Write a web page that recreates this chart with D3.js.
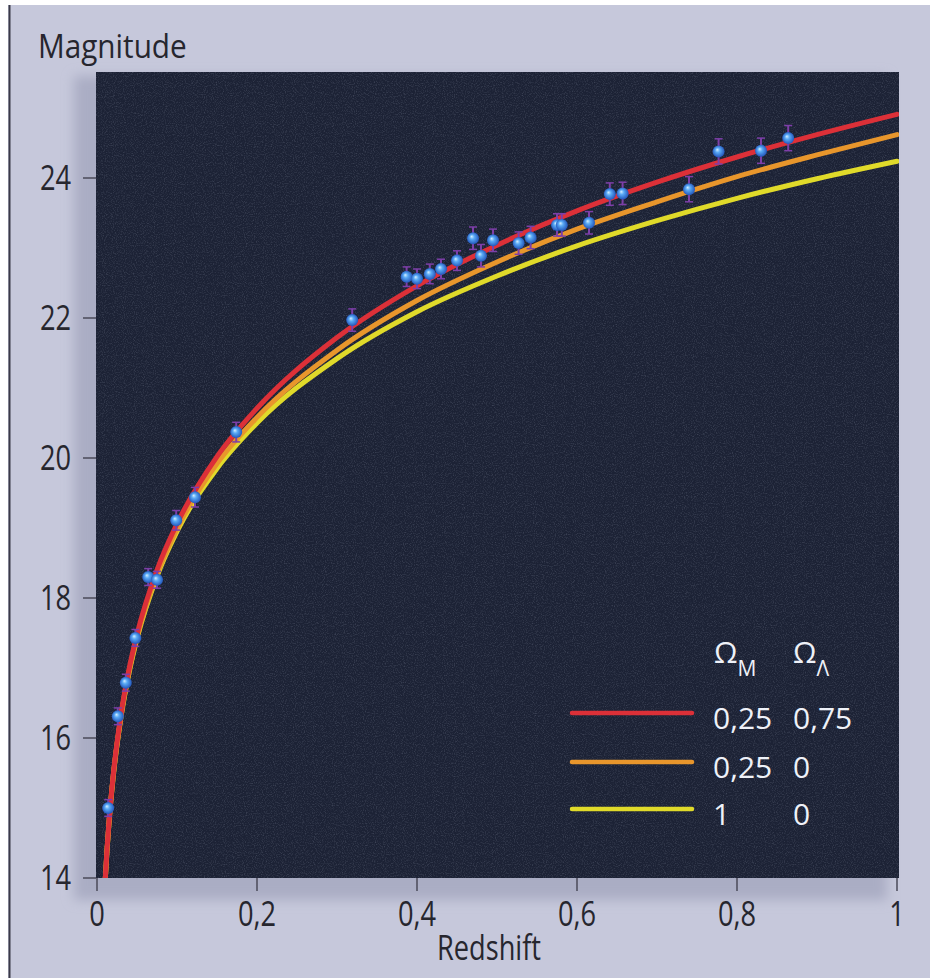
<!DOCTYPE html>
<html lang="en">
<head>
    <meta charset="UTF-8">
    <title>Redshift - Magnitude</title>
    <script src="https://d3js.org/d3.v7.min.js"></script>
    <style>
        body { margin: 0; background: #ffffff; }
        text { font-family: 'Open Sans', 'Noto Sans', sans-serif; }
    </style>
</head>
<body>
<script>
    const width  = 930;
    const height = 978;

    // model curves
    const zGrid      = [0.01, 0.0125, 0.015, 0.02, 0.03, 0.04, 0.05, 0.075, 0.1, 0.15, 0.2, 0.3, 0.4, 0.5, 0.6, 0.7, 0.8, 0.9, 1.0];
    const magLambda  = [13.92, 14.41, 14.81, 15.44, 16.34, 16.98, 17.48, 18.40, 19.06, 20.02, 20.71, 21.72, 22.46, 23.04, 23.53, 23.94, 24.30, 24.62, 24.91];
    const magOpen    = [13.91, 14.40, 14.79, 15.42, 16.31, 16.95, 17.44, 18.34, 18.99, 19.92, 20.58, 21.54, 22.25, 22.80, 23.27, 23.66, 24.02, 24.33, 24.62];
    const magFlat    = [13.91, 14.39, 14.79, 15.42, 16.30, 16.93, 17.42, 18.31, 18.95, 19.85, 20.50, 21.42, 22.09, 22.60, 23.03, 23.39, 23.71, 23.99, 24.24];

    // supernovae
    const snZ   = [0.014, 0.026, 0.036, 0.048, 0.064, 0.075, 0.099, 0.1225, 0.174, 0.319,
                   0.387, 0.400, 0.416, 0.430, 0.450, 0.470, 0.480, 0.495, 0.527, 0.542,
                   0.575, 0.581, 0.615, 0.641, 0.657, 0.740, 0.777, 0.830, 0.864];
    const snMag = [15.00, 16.31, 16.79, 17.43, 18.30, 18.26, 19.11, 19.44, 20.37, 21.97,
                   22.59, 22.56, 22.63, 22.70, 22.82, 23.14, 22.89, 23.11, 23.07, 23.15,
                   23.33, 23.33, 23.36, 23.77, 23.78, 23.84, 24.38, 24.39, 24.57];
    const snErr = [0.12, 0.12, 0.12, 0.12, 0.12, 0.12, 0.14, 0.14, 0.14, 0.16,
                   0.14, 0.14, 0.14, 0.14, 0.14, 0.16, 0.16, 0.16, 0.16, 0.16,
                   0.16, 0.16, 0.16, 0.16, 0.16, 0.18, 0.18, 0.18, 0.18];

    const xTicks = [0, 0.2, 0.4, 0.6, 0.8, 1];
    const yTicks = [14, 16, 18, 20, 22, 24];

    const legendM = ["0,25", "0,25", "1"];
    const legendL = ["0,75", "0", "0"];
    const colors  = ["#dc3038", "#e8962c", "#e0da2a"];

    const plot = {left: 96, right: 899, top: 72, bottom: 878};

    const x = d3.scaleLinear().domain([0, 1]).range([97, 897]);
    const y = d3.scaleLinear().domain([14, 25.5]).range([878, 73]);

    const svg = d3.select("body").append("svg")
        .attr("width", width).attr("height", height);

    // narrow the text a bit, the original uses a condensed face
    function squeeze(sel, k) {
        sel.each(function() {
            const w = this.getComputedTextLength();
            d3.select(this).attr("textLength", w * k).attr("lengthAdjust", "spacingAndGlyphs");
        });
    }

    const defs = svg.append("defs");

    defs.append("filter").attr("id", "blur")
        .append("feGaussianBlur").attr("stdDeviation", 6);

    const noise = defs.append("filter").attr("id", "noise")
        .attr("x", 0).attr("y", 0).attr("width", "100%").attr("height", "100%");
    noise.append("feTurbulence").attr("type", "fractalNoise")
        .attr("baseFrequency", 0.9).attr("numOctaves", 2).attr("seed", 3);
    noise.append("feColorMatrix").attr("type", "matrix")
        .attr("values", "0 0 0 0 0.6  0 0 0 0 0.65  0 0 0 0 0.8  0 0 0 1.2 -0.55");

    defs.append("clipPath").attr("id", "clip")
        .append("rect")
        .attr("x", plot.left).attr("y", plot.top)
        .attr("width", plot.right - plot.left).attr("height", plot.bottom - plot.top);

    const grad = defs.append("radialGradient").attr("id", "ball")
        .attr("cx", "50%").attr("cy", "50%").attr("r", "55%")
        .attr("fx", "38%").attr("fy", "35%");
    grad.append("stop").attr("offset", "0%").attr("stop-color", "#d6efff");
    grad.append("stop").attr("offset", "35%").attr("stop-color", "#5aaaf5");
    grad.append("stop").attr("offset", "100%").attr("stop-color", "#1c4cb4");

    // page background
    svg.append("rect")
        .attr("x", 8).attr("y", 5).attr("width", width - 8).attr("height", height - 5)
        .attr("fill", "#c6c8db");
    svg.append("line")
        .attr("x1", 9.5).attr("x2", 9.5).attr("y1", 5).attr("y2", height)
        .attr("stroke", "#3a3a48").attr("stroke-width", 2);

    // shadow behind plot
    svg.append("rect")
        .attr("x", plot.left - 22).attr("y", plot.top + 4)
        .attr("width", plot.right - plot.left + 10).attr("height", plot.bottom - plot.top + 18)
        .attr("fill", "#aaadc4").attr("filter", "url(#blur)");

    svg.append("rect")
        .attr("x", plot.left).attr("y", plot.top)
        .attr("width", plot.right - plot.left).attr("height", plot.bottom - plot.top)
        .attr("fill", "#1c2235");
    svg.append("rect")
        .attr("x", plot.left).attr("y", plot.top)
        .attr("width", plot.right - plot.left).attr("height", plot.bottom - plot.top)
        .attr("filter", "url(#noise)").attr("opacity", 0.35);

    // axes ticks
    svg.selectAll(".ytick").data(yTicks).enter()
        .append("line").attr("class", "ytick")
        .attr("x1", 83).attr("x2", 96)
        .attr("y1", d => y(d)).attr("y2", d => y(d))
        .attr("stroke", "#4a4a58").attr("stroke-width", 1.5);
    svg.selectAll(".ylabel").data(yTicks).enter()
        .append("text").attr("class", "ylabel")
        .attr("x", 71).attr("y", d => y(d) + 12)
        .attr("text-anchor", "end")
        .attr("font-size", 34).attr("fill", "#26262e")
        .text(d => d)
        .call(squeeze, 0.8);

    svg.selectAll(".xtick").data(xTicks).enter()
        .append("line").attr("class", "xtick")
        .attr("x1", d => x(d)).attr("x2", d => x(d))
        .attr("y1", 878).attr("y2", 891)
        .attr("stroke", "#4a4a58").attr("stroke-width", 1.5);
    svg.selectAll(".xlabel").data(xTicks).enter()
        .append("text").attr("class", "xlabel")
        .attr("x", d => x(d)).attr("y", 926)
        .attr("text-anchor", "middle")
        .attr("font-size", 34).attr("fill", "#26262e")
        .text(d => String(d).replace(".", ","))
        .call(squeeze, 0.8);

    svg.append("text")
        .attr("x", 38).attr("y", 58)
        .attr("font-size", 33).attr("fill", "#26262e")
        .text("Magnitude")
        .call(squeeze, 0.9);
    svg.append("text")
        .attr("x", x(0.5) - 8).attr("y", 960)
        .attr("text-anchor", "middle")
        .attr("font-size", 34).attr("fill", "#26262e")
        .text("Redshift")
        .call(squeeze, 0.8);

    // model curves
    const line = d3.line()
        .x(d => x(d[0]))
        .y(d => y(d[1]))
        .curve(d3.curveMonotoneX);

    const g = svg.append("g").attr("clip-path", "url(#clip)");
    const series = [magLambda, magOpen, magFlat];
    [2, 1, 0].forEach(i => {
        g.append("path")
            .attr("d", line(zGrid.map((z, k) => [z, series[i][k]])))
            .attr("fill", "none")
            .attr("stroke", colors[i])
            .attr("stroke-width", 5)
            .attr("stroke-linecap", "round");
    });

    // supernovae with error bars
    const sn = snZ.map((z, i) => ({z: z, m: snMag[i], e: snErr[i]}));
    const pts = g.selectAll(".sn").data(sn).enter().append("g").attr("class", "sn");
    pts.append("line")
        .attr("x1", d => x(d.z)).attr("x2", d => x(d.z))
        .attr("y1", d => y(d.m + d.e)).attr("y2", d => y(d.m - d.e))
        .attr("stroke", "#7d3fa8").attr("stroke-width", 2);
    pts.append("line")
        .attr("x1", d => x(d.z) - 4).attr("x2", d => x(d.z) + 4)
        .attr("y1", d => y(d.m + d.e)).attr("y2", d => y(d.m + d.e))
        .attr("stroke", "#7d3fa8").attr("stroke-width", 1.5);
    pts.append("line")
        .attr("x1", d => x(d.z) - 4).attr("x2", d => x(d.z) + 4)
        .attr("y1", d => y(d.m - d.e)).attr("y2", d => y(d.m - d.e))
        .attr("stroke", "#7d3fa8").attr("stroke-width", 1.5);
    pts.append("circle")
        .attr("cx", d => x(d.z)).attr("cy", d => y(d.m))
        .attr("r", 6)
        .attr("fill", "url(#ball)");

    // legend
    const lg = svg.append("g");
    const rowY = [713, 762, 809];
    const head = lg.append("text").attr("y", 663).attr("font-size", 30).attr("fill", "#eef1f8");
    head.append("tspan").attr("x", 714).text("\u03A9");
    head.append("tspan").attr("dy", 13).attr("font-size", 21).text("M");
    const head2 = lg.append("text").attr("y", 663).attr("font-size", 30).attr("fill", "#eef1f8");
    head2.append("tspan").attr("x", 793).text("\u03A9");
    head2.append("tspan").attr("dy", 13).attr("font-size", 21).text("\u039B");

    rowY.forEach((ry, i) => {
        lg.append("line")
            .attr("x1", 572).attr("x2", 692)
            .attr("y1", ry).attr("y2", ry)
            .attr("stroke", colors[i]).attr("stroke-width", 4.5)
            .attr("stroke-linecap", "round");
        lg.append("text")
            .attr("x", 713).attr("y", ry + 16)
            .attr("font-size", 30).attr("fill", "#eef1f8")
            .text(legendM[i]);
        lg.append("text")
            .attr("x", 793).attr("y", ry + 16)
            .attr("font-size", 30).attr("fill", "#eef1f8")
            .text(legendL[i]);
    });
</script>
</body>
</html>
